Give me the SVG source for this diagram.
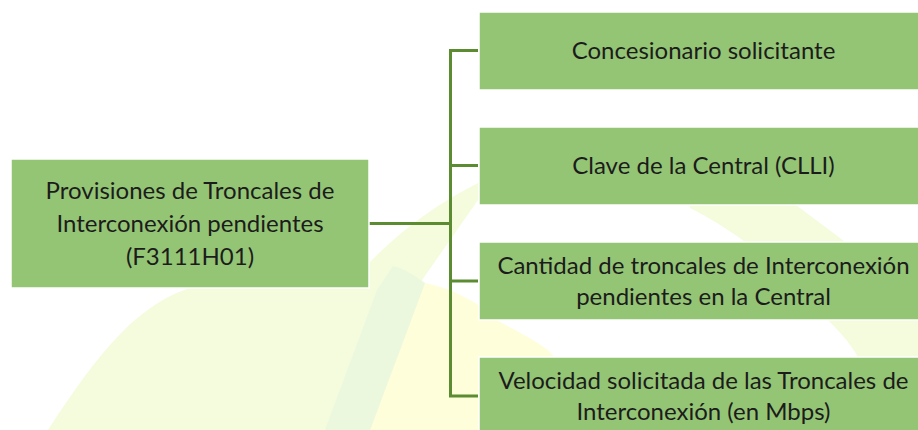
<svg xmlns="http://www.w3.org/2000/svg" width="918" height="430" viewBox="0 0 918 430">
  <style>
    .box { fill: #94c575; stroke: #ffffff; stroke-width: 1.5; }
    .lbl { font-family: Lato, "Liberation Sans", sans-serif; font-size: 24px; fill: #1c1c1c; text-anchor: middle; }
    .conn { stroke: #5b8c32; stroke-width: 3; fill: none; }
  </style>
  <rect width="918" height="430" fill="#ffffff"/>
  <g id="watermark">
    <path d="M48,430 C100,350 140,300 200,285 L370,262 C392,240 425,210 478,183 C600,120 740,160 800,208 L840,238 C880,270 905,295 935,330 L935,430 Z" fill="#f4fcdd"/>
    <path d="M478,200 L690,200 L690,208 C710,218 725,228 740,238 C775,268 805,295 830,322 C842,334 850,344 855,352 L900,440 L560,440 L420,283 Z" fill="#ffffff"/>
    <path d="M370,430 L425,283 C450,288 476,300 500,322 C525,335 540,343 550,352 C570,375 585,400 600,440 L370,440 Z" fill="#fefedb"/>
    <path d="M325,430 L370,430 L425,283 C412,274 403,268 393,266 L377,290 Z" fill="#ebf8de"/>
  </g>
  <g id="connectors">
    <path class="conn" d="M369,223.5 H450.5"/>
    <path class="conn" d="M478,50.5 H450.5 V396 H478"/>
    <path class="conn" d="M450.5,165.5 H478"/>
    <path class="conn" d="M450.5,281 H478"/>
  </g>
  <g id="root">
    <rect class="box" x="11" y="159" width="358" height="129"/>
    <text class="lbl" x="190" y="199">Provisiones de Troncales de</text>
    <text class="lbl" x="190" y="232">Interconexión pendientes</text>
    <text class="lbl" x="190" y="265">(F3111H01)</text>
  </g>
  <g id="n1">
    <rect class="box" x="479" y="12" width="449" height="78"/>
    <text class="lbl" x="703.5" y="58.5">Concesionario solicitante</text>
  </g>
  <g id="n2">
    <rect class="box" x="479" y="127" width="449" height="78"/>
    <text class="lbl" x="703.5" y="173.5">Clave de la Central (CLLI)</text>
  </g>
  <g id="n3">
    <rect class="box" x="479" y="242" width="449" height="78"/>
    <text class="lbl" x="703.5" y="273.5">Cantidad de troncales de Interconexión</text>
    <text class="lbl" x="703.5" y="304.5">pendientes en la Central</text>
  </g>
  <g id="n4">
    <rect class="box" x="479" y="357" width="449" height="78"/>
    <text class="lbl" x="703.5" y="388.5">Velocidad solicitada de las Troncales de</text>
    <text class="lbl" x="703.5" y="419.5">Interconexión (en Mbps)</text>
  </g>
</svg>
